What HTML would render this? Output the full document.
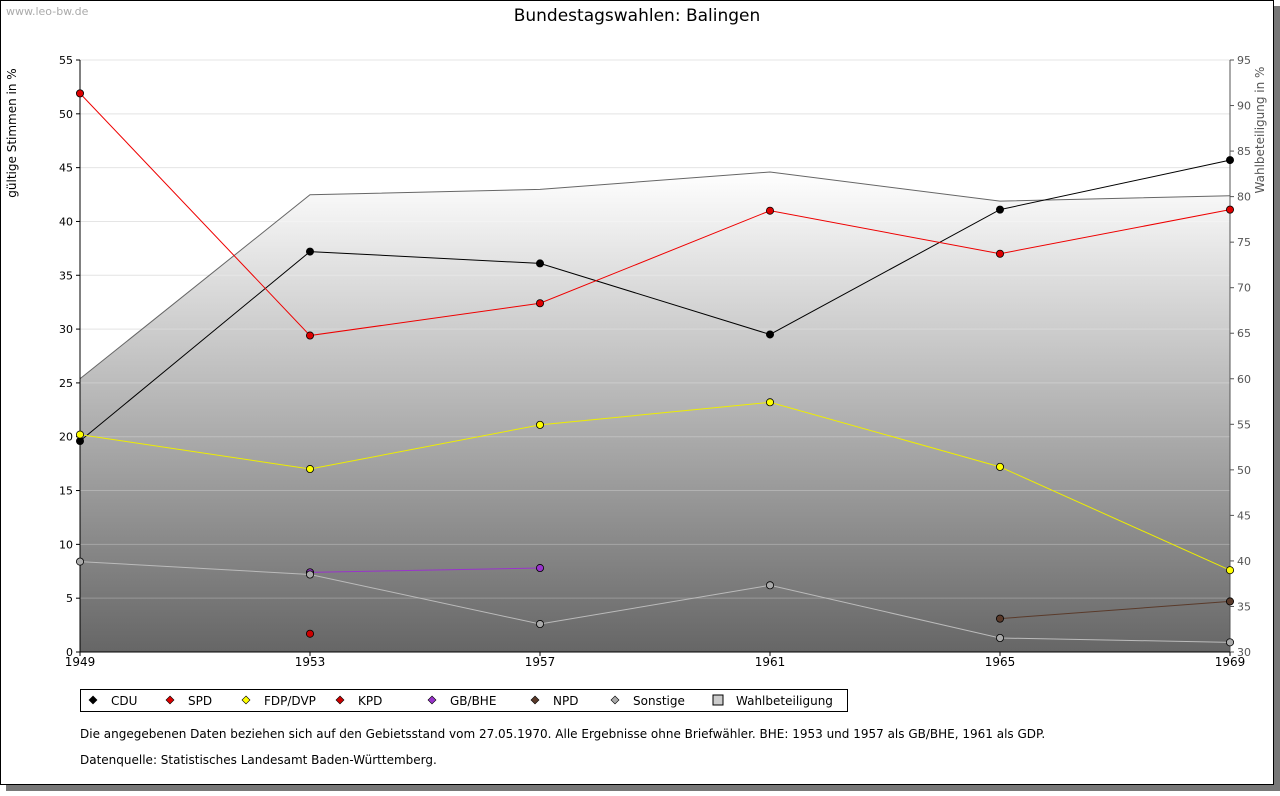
<!DOCTYPE html>
<html><head><meta charset="utf-8"><style>
body{margin:0;background:#fff;font-family:"Liberation Sans","DejaVu Sans",sans-serif;}
svg text{font-family:"DejaVu Sans","Liberation Sans",sans-serif;}
</style></head><body>
<svg id="c" width="1280" height="791">
<defs><linearGradient id="g" x1="0" y1="0" x2="0" y2="1"><stop offset="0" stop-color="#ffffff"/><stop offset="1" stop-color="#666666"/></linearGradient></defs>
<rect x="6" y="6" width="1274" height="785" fill="#777"/>
<rect x="0.5" y="0.5" width="1273" height="784" fill="#fff" stroke="#000"/>
<text x="6" y="15" font-size="11" fill="#aaa">www.leo-bw.de</text>
<text x="637" y="21" font-size="17" text-anchor="middle">Bundestagswahlen: Balingen</text>
<g id="plot"></g>
<text transform="translate(16,133) rotate(-90)" font-size="12" text-anchor="middle">gültige Stimmen in %</text>
<text transform="translate(1264,130) rotate(-90)" font-size="12" fill="#555" text-anchor="middle">Wahlbeteiligung in %</text>
<rect x="80.5" y="689.5" width="767" height="22" fill="#fff" stroke="#000"/>
<g id="legend"></g>
<text x="80" y="738" font-size="12">Die angegebenen Daten beziehen sich auf den Gebietsstand vom 27.05.1970. Alle Ergebnisse ohne Briefwähler. BHE: 1953 und 1957 als GB/BHE, 1961 als GDP.</text>
<text x="80" y="764" font-size="12">Datenquelle: Statistisches Landesamt Baden-Württemberg.</text>
</svg>
<script>
const years=[1949,1953,1957,1961,1965,1969];
const cdu=[19.6,37.2,36.1,29.5,41.1,45.7];
const spd=[51.9,29.4,32.4,41.0,37.0,41.1];
const fdp=[20.2,17.0,21.1,23.2,17.2,7.6];
const kpd=[null,1.7,null,null,null,null];
const bhe=[null,7.4,7.8,null,null,null];
const npd=[null,null,null,null,3.1,4.7];
const sonst=[8.4,7.2,2.6,6.2,1.3,0.9];
const turnout=[60.0,80.2,80.8,82.7,79.5,80.1];
const leftTicks=[0,5,10,15,20,25,30,35,40,45,50,55];
const rightTicks=[30,35,40,45,50,55,60,65,70,75,80,85,90,95];
const NS="http://www.w3.org/2000/svg";
const X0=80,X1=1230,Y0=652,Y1=60;
const xs=i=>X0+(years[i]-years[0])/(years[years.length-1]-years[0])*(X1-X0);
const yl=v=>Y0-v/55*(Y0-Y1);
const yr=v=>Y0-(v-30)/65*(Y0-Y1);
const plot=document.getElementById('plot');
function mk(t,a,p){const e=document.createElementNS(NS,t);for(const k in a)e.setAttribute(k,a[k]);(p||plot).appendChild(e);return e;}
leftTicks.forEach(t=>{const l=mk('line',{x1:X0,x2:X1,y1:yl(t),y2:yl(t),stroke:'#ddd','stroke-width':1});

});
let d=`M${X0},${Y0}`;turnout.forEach((v,i)=>d+=`L${xs(i)},${yr(v)}`);d+=`L${X1},${Y0}Z`;
const area=mk('path',{d:d,fill:'url(#g)'});


leftTicks.forEach(t=>{mk('line',{x1:X0,x2:X1,y1:yl(t),y2:yl(t),stroke:'#fff','stroke-opacity':0.25});
const tx=mk('text',{x:X0-7,y:yl(t)+4,'font-size':11,'text-anchor':'end'});tx.textContent=t;


mk('line',{x1:X0-4,x2:X0,y1:yl(t),y2:yl(t),stroke:'#000'});});
rightTicks.forEach(t=>{const tx=mk('text',{x:X1+7,y:yr(t)+4,'font-size':11,fill:'#555'});tx.textContent=t;


mk('line',{x1:X1,x2:X1+4,y1:yr(t),y2:yr(t),stroke:'#555'});});
let tl='';turnout.forEach((v,i)=>tl+=(i?'L':'M')+xs(i)+','+yr(v));
const tline=mk('path',{d:tl,fill:'none',stroke:'#666'});


mk('line',{x1:X0,x2:X0,y1:Y1,y2:Y0,stroke:'#000'});
mk('line',{x1:X1,x2:X1,y1:Y1,y2:Y0,stroke:'#555'});
mk('line',{x1:X0,x2:X1,y1:Y0,y2:Y0,stroke:'#000'});
years.forEach((y,i)=>{mk('line',{x1:xs(i),x2:xs(i),y1:Y0,y2:Y0+4,stroke:'#000'});
const tx=mk('text',{x:xs(i),y:Y0+14,'font-size':12,'text-anchor':'middle'});tx.textContent=y;

});
const series=[['CDU',cdu,'#000','#000'],['SPD',spd,'#e00','#d00'],['FDP/DVP',fdp,'#ee0','#ff0'],['KPD',kpd,'#c00','#c00'],['GB/BHE',bhe,'#93c','#93c'],['NPD',npd,'#5a3a2a','#5a3a2a'],['Sonstige',sonst,'#bbb','#aaa']];
series.forEach(([n,vals,lc,fc])=>{
 let p='',pen=false;vals.forEach((v,i)=>{if(v==null){pen=false;return;}p+=(pen?'L':'M')+xs(i)+','+yl(v);pen=true;});
 const l=mk('path',{d:p,fill:'none',stroke:lc});
 
 
 vals.forEach((v,i)=>{if(v==null)return;const c=mk('circle',{cx:xs(i),cy:yl(v),r:3.6,fill:fc,stroke:'#000','stroke-width':0.8});
 
 });
});
const lg=document.getElementById('legend');
const lx=[93,170,246,340,432,535,615,718];
series.concat([['Wahlbeteiligung',null,'#888','#ccc']]).forEach(([n,,lc,fc],k)=>{
 let m;
 if(n==='Wahlbeteiligung'){m=mk('rect',{x:lx[k]-5,y:695,width:10,height:10,fill:'#ccc',stroke:'#000'},lg);}
 else{m=mk('path',{d:`M${lx[k]},696 l4,4 l-4,4 l-4,-4Z`,fill:fc,stroke:'#000','stroke-width':0.6},lg);}
 
 
 const t=mk('text',{x:lx[k]+18,y:705,'font-size':12},lg);t.textContent=n;
 
 
});
</script>
</body></html>
